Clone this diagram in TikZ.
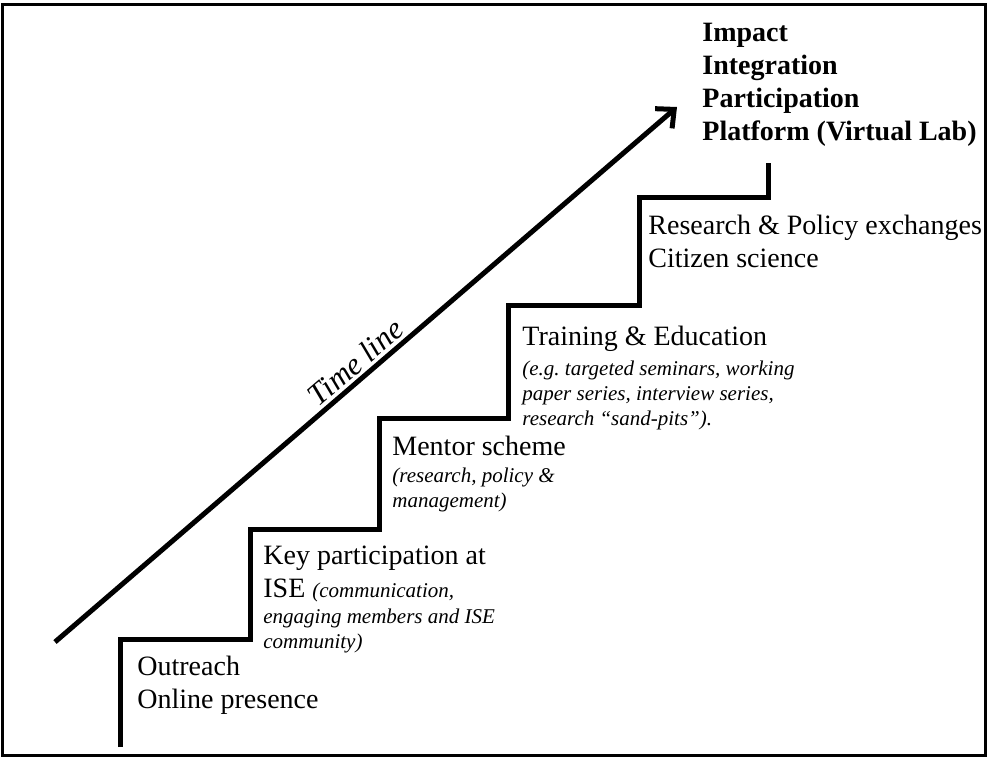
\documentclass[tikz,border=0pt]{standalone}
\usepackage{fontspec}
\setmainfont{Liberation Serif}
\usetikzlibrary{arrows.meta}

\begin{document}
\begin{tikzpicture}[x=0.5pt,y=-0.5pt,
    heading/.style={anchor=north west,inner sep=0pt,align=left,font=\fontsize{14}{16.5}\selectfont},
    remark/.style={anchor=north west,inner sep=0pt,align=left,font=\fontsize{10.5}{12.5}\selectfont\itshape},
    stairs/.style={line width=2.5pt},
    timeline/.style={line width=2.5pt,-{Straight Barb[length=7pt,width=13pt]}}]
  \useasboundingbox (0,0) rectangle (987,757);
  \draw[line width=1.5pt] (2,4) rectangle (985,755);

  % the steps
  \draw[stairs] (120,747) |- (250,639) |- (379,529) |- (508,418) |- (639,305) |- (768,197) -- (768,163);

  % time line arrow
  \coordinate (tl start) at (55,642);
  \coordinate (tl end) at (677,107);
  \draw[timeline] (tl start) -- node[sloped,above=1.5pt,inner sep=0pt,pos=0.5,font=\fontsize{15.5}{18}\selectfont\itshape] (tl label) {Time line} (tl end);

  \node[heading] (outreach) at (137,656) {Outreach\\Online presence};
  \node[heading] (key) at (263,546) {Key participation at\\ISE {\fontsize{10.5}{12.5}\selectfont\itshape (communication,}};
  \node[remark] (key note) at (263,609) {engaging members and ISE\\community)};
  \node[heading] (mentor) at (392,436) {Mentor scheme};
  \node[remark] (mentor note) at (392,468) {(research, policy \&\\management)};
  \node[heading] (training) at (522,326) {Training \& Education};
  \node[remark] (training note) at (522,361) {(e.g.\ targeted seminars, working\\paper series, interview series,\\research “sand-pits”).};
  \node[heading] (research) at (648,215) {Research \& Policy exchanges\\Citizen science};
  \node[heading,font=\fontsize{14}{16.5}\selectfont\bfseries] (goals) at (702,23) {Impact\\Integration\\Participation\\Platform (Virtual Lab)};
\end{tikzpicture}
\end{document}
